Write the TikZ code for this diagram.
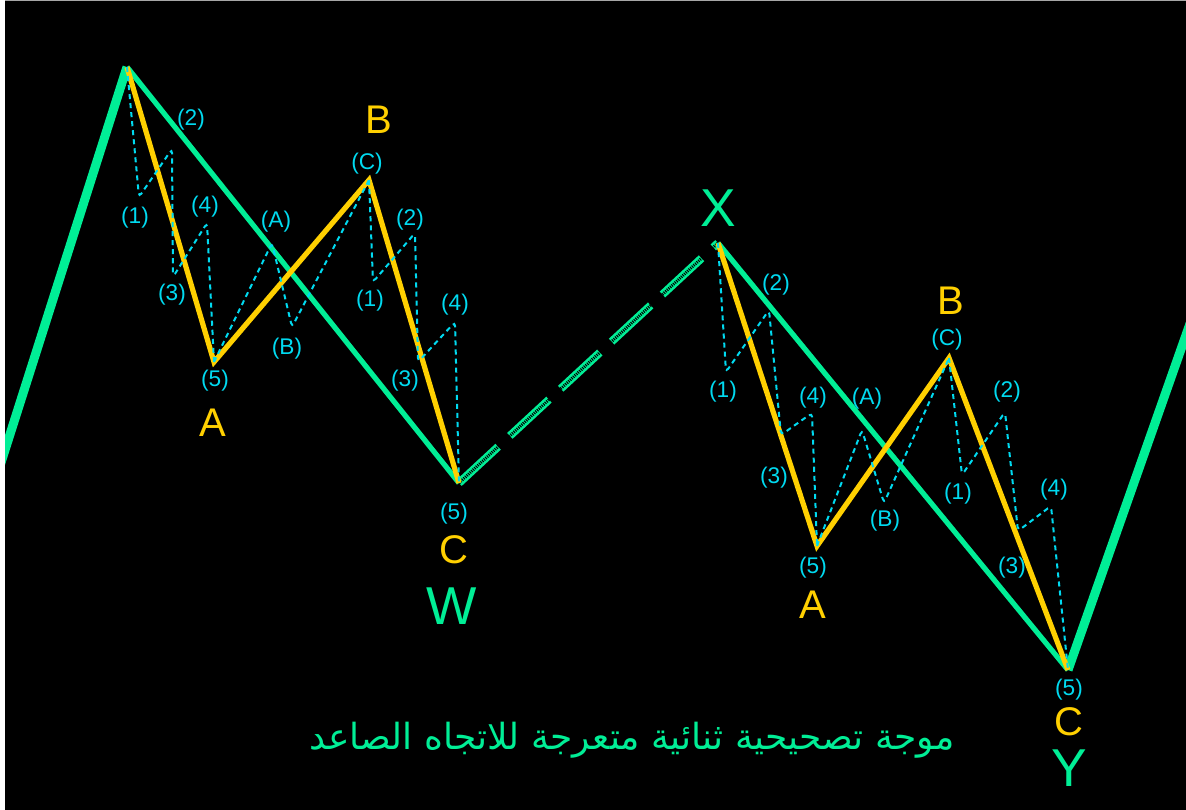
\documentclass[tikz,border=0pt]{standalone}
\usepackage{fontspec}
\setmainfont{Liberation Sans}
\newfontfamily\arabicfont[Script=Arabic]{DejaVu Sans}
\TeXXeTstate=1
\definecolor{wavegreen}{RGB}{0,238,150}
\definecolor{waveyellow}{RGB}{255,208,0}
\definecolor{subcyan}{RGB}{0,218,240}

\begin{document}
\begin{tikzpicture}[x=0.75pt,y=-0.75pt,
		bigleg/.style={wavegreen, line width=6.75pt},
		midleg/.style={wavegreen, line width=3.9pt},
		xleg/.style={wavegreen, line width=6pt, dash pattern=on 40pt off 12pt},
		xhatch/.style={black, line width=2.2pt, dash pattern=on 0.8pt off 0.8pt},
		yleg/.style={waveyellow, line width=3.9pt},
		sub/.style={subcyan, line width=1.5pt, dash pattern=on 3.8pt off 3pt, rounded corners=3pt},
		sublbl/.style={subcyan, inner sep=0pt, font=\fontsize{17}{17}\selectfont},
		abclbl/.style={waveyellow, inner sep=0pt, font=\fontsize{30}{30}\selectfont},
		wxylbl/.style={wavegreen, inner sep=0pt, font=\fontsize{40}{40}\selectfont}]
	\useasboundingbox (0,0) rectangle (1186,810);
	\fill[black] (0,0) rectangle (1186,810);
	\fill[white] (0,0) rectangle (5,810);
	\draw[gray!70, line width=0.75pt] (5,0.5) -- (1186,0.5);
	\clip (5,1) rectangle (1186,810);
	
	\coordinate (s0) at (-2,472);
	\coordinate (top) at (127,67);
	\coordinate (w) at (459,483);
	\coordinate (x) at (718,243);
	\coordinate (y) at (1068,670);
	\coordinate (s1) at (1192,318);
	\coordinate (a1) at (214,362);
	\coordinate (b1) at (369,180);
	\coordinate (a2) at (817,546);
	\coordinate (b2) at (949,358);
	
	\draw[bigleg] (s0) -- (top);
	\draw[midleg] (top) -- (w);
	\draw[xleg] (w) -- (x);
	\draw[xhatch] (w) -- (x);
	\draw[midleg] (x) -- (y);
	\draw[bigleg] (y) -- (s1);
	
	\draw[yleg] (top) -- (a1) -- (b1) -- (w);
	\draw[yleg] (x) -- (a2) -- (b2) -- (y);
	
	\draw[sub] (top) -- (139,197) -- (172,149) -- (173,277) -- (207,223) -- (a1);
	\draw[sub] (a1) -- (272,243) -- (292,327) -- (b1);
	\draw[sub] (b1) -- (373,282) -- (415,233) -- (418,362) -- (455,322) -- (w);
	\draw[sub] (x) -- (726,372) -- (769,310) -- (781,435) -- (812,413) -- (a2);
	\draw[sub] (a2) -- (862,430) -- (884,503) -- (b2);
	\draw[sub] (b2) -- (962,475) -- (1005,412) -- (1018,531) -- (1051,506) -- (y);
	
	\node[sublbl] (n1a) at (135,218) {(1)};
	\node[sublbl] (n2a) at (191,120) {(2)};
	\node[sublbl] (n3a) at (172,295) {(3)};
	\node[sublbl] (n4a) at (205,207) {(4)};
	\node[sublbl] (n5a) at (215,381) {(5)};
	\node[sublbl] (nAa) at (276,222) {(A)};
	\node[sublbl] (nBa) at (287,349) {(B)};
	\node[sublbl] (nCa) at (367,164) {(C)};
	\node[sublbl] (n1b) at (370,301) {(1)};
	\node[sublbl] (n2b) at (410,220) {(2)};
	\node[sublbl] (n3b) at (405,381) {(3)};
	\node[sublbl] (n4b) at (455,305) {(4)};
	\node[sublbl] (n5b) at (454,514) {(5)};
	\node[abclbl] (la1) at (213,423) {A};
	\node[abclbl] (lb1) at (379,120) {B};
	\node[abclbl] (lc1) at (454,550) {C};
	\node[wxylbl] (lw) at (452,606) {W};
	
	\node[wxylbl] (lx) at (718,208) {X};
	\node[sublbl] (n1c) at (723,392) {(1)};
	\node[sublbl] (n2c) at (776,285) {(2)};
	\node[sublbl] (n3c) at (774,478) {(3)};
	\node[sublbl] (n4c) at (813,398) {(4)};
	\node[sublbl] (n5c) at (813,568) {(5)};
	\node[sublbl] (nAc) at (867,399) {(A)};
	\node[sublbl] (nBc) at (885,521) {(B)};
	\node[sublbl] (nCc) at (947,340) {(C)};
	\node[sublbl] (n1d) at (958,494) {(1)};
	\node[sublbl] (n2d) at (1007,392) {(2)};
	\node[sublbl] (n3d) at (1012,568) {(3)};
	\node[sublbl] (n4d) at (1054,490) {(4)};
	\node[sublbl] (n5d) at (1069,690) {(5)};
	\node[abclbl] (la2) at (813,605) {A};
	\node[abclbl] (lb2) at (951,301) {B};
	\node[abclbl] (lc2) at (1069,722) {C};
	\node[wxylbl] (ly) at (1069,768) {Y};
	
	\node[wavegreen, inner sep=0pt, font=\arabicfont\fontsize{27}{27}\selectfont] (title) at (632,740) {\beginR موجة تصحيحية ثنائية متعرجة للاتجاه الصاعد\endR};
\end{tikzpicture}
\end{document}
